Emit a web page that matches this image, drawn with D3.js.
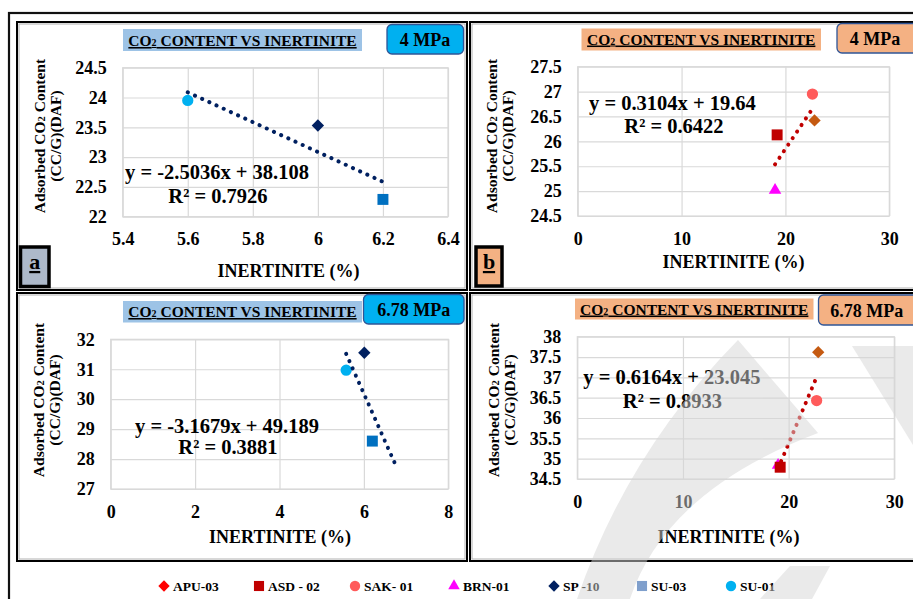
<!DOCTYPE html>
<html>
<head>
<meta charset="utf-8">
<script src="https://cdn.jsdelivr.net/npm/d3@7"></script>
<style>
body { margin: 0; background: #fff; }
svg text { font-family: "Liberation Serif", "Times New Roman", serif; font-weight: bold; fill: #000; }
</style>
</head>
<body>
<div id="chart"></div>
<script>
// legend entries
var legendKeys = ["APU-03", "ASD-02", "SAK-01", "BRN-01", "SP-10", "SU-03", "SU-01"];
var legendLabels = ["APU-03", "ASD - 02", "SAK- 01", "BRN-01", "SP -10", "SU-03", "SU-01"];

// panel a : 4 MPa
var aSamples = ["SU-01", "SP-10", "SU-03"];
var aInert = [5.6, 6.0, 6.2];
var aCO2 = [23.95, 23.53, 22.29];
var aXTicks = [5.4, 5.6, 5.8, 6, 6.2, 6.4];
var aYTicks = [22, 22.5, 23, 23.5, 24, 24.5];
var aTrend = [-2.5036, 38.108];
var aTrendRange = [5.6, 6.2];
var aEq = ["y = -2.5036x + 38.108", "R² = 0.7926"];

// panel b : 4 MPa
var bSamples = ["BRN-01", "ASD-02", "SAK-01", "APU-03"];
var bInert = [19.0, 19.2, 22.6, 22.8];
var bCO2 = [25.02, 26.13, 26.95, 26.42];
var bXTicks = [0, 10, 20, 30];
var bYTicks = [24.5, 25, 25.5, 26, 26.5, 27, 27.5];
var bTrend = [0.3104, 19.64];
var bTrendRange = [19.0, 22.8];
var bEq = ["y = 0.3104x + 19.64", "R² = 0.6422"];

// panel c : 6.78 MPa
var cSamples = ["SU-01", "SP-10", "SU-03"];
var cInert = [5.58, 6.01, 6.2];
var cCO2 = [30.97, 31.55, 28.6];
var cXTicks = [0, 2, 4, 6, 8];
var cYTicks = [27, 28, 29, 30, 31, 32];
var cTrend = [-3.1679, 49.189];
var cTrendRange = [5.58, 6.73];
var cEq = ["y = -3.1679x + 49.189", "R² = 0.3881"];

// panel d : 6.78 MPa
var dSamples = ["BRN-01", "ASD-02", "SAK-01", "APU-03"];
var dInert = [19.0, 19.2, 22.65, 22.8];
var dCO2 = [34.84, 34.79, 36.43, 37.62];
var dXTicks = [0, 10, 20, 30];
var dYTicks = [34.5, 35, 35.5, 36, 36.5, 37, 37.5, 38];
var dTrend = [0.6164, 23.045];
var dTrendRange = [19.0, 22.75];
var dEq = ["y = 0.6164x + 23.045", "R² = 0.8933"];

// marker look of each sample inside the charts
var markStyle = {
    "SU-01": { shape: "circle", color: "#00b0f0" },
    "SP-10": { shape: "diamond", color: "#002060" },
    "SU-03": { shape: "square", color: "#0070c0" },
    "SAK-01": { shape: "circle", color: "#ff5b5b" },
    "APU-03": { shape: "diamond", color: "#c55a11" },
    "ASD-02": { shape: "square", color: "#c00000" },
    "BRN-01": { shape: "triangle", color: "#ff00ff" }
};
// legend uses slightly different colours
var legendColor = {
    "APU-03": "#ff0000", "ASD-02": "#c00000", "SAK-01": "#ff5b5b", "BRN-01": "#ff00ff",
    "SP-10": "#002060", "SU-03": "#7f9fcc", "SU-01": "#00b0f0"
};

var W = 913, H = 599;
var svg = d3.select("#chart").append("svg").attr("width", W).attr("height", H);

function symbolPath(shape, k) {
    k = k || 1;
    if (shape == "circle") return d3.symbol(d3.symbolCircle, 100 * k)();
    if (shape == "square") return d3.symbol(d3.symbolSquare, 120 * k)();
    if (shape == "triangle") return d3.symbol(d3.symbolTriangle, 68 * k)();
    return d3.symbol(d3.symbolSquare, 76 * k)();
}
function symbolRotate(shape) {
    return shape == "diamond" ? " rotate(45)" : "";
}

// outer frame
svg.append("rect").attr("x", 9).attr("y", 13).attr("width", 930).attr("height", 620)
    .attr("fill", "none").attr("stroke", "#111").attr("stroke-width", 2.2);

function drawPanel(p) {
    var g = svg.append("g");
    // panel frame (double line look)
    g.append("rect").attr("x", p.frame[0]).attr("y", p.frame[1])
        .attr("width", p.frame[2] - p.frame[0]).attr("height", p.frame[3] - p.frame[1])
        .attr("fill", "#fff").attr("stroke", "#000").attr("stroke-width", 2);
    g.append("rect").attr("x", p.frame[0] + 2).attr("y", p.frame[1] + 2)
        .attr("width", p.frame[2] - p.frame[0] - 4).attr("height", p.frame[3] - p.frame[1] - 4)
        .attr("fill", "none").attr("stroke", "#b0b0b0").attr("stroke-width", 1);

    var x = d3.scaleLinear().domain([p.xTicks[0], p.xTicks[p.xTicks.length - 1]]).range([p.left, p.right]);
    var y = d3.scaleLinear().domain([p.yTicks[0], p.yTicks[p.yTicks.length - 1]]).range([p.bottom, p.top]);

    // axes with gridlines
    var xa = g.append("g").attr("transform", "translate(0," + p.bottom + ")")
        .call(d3.axisBottom(x).tickValues(p.xTicks).tickFormat(function(d) { return d; })
            .tickSizeInner(-(p.bottom - p.top)).tickSizeOuter(0).tickPadding(16));
    var ya = g.append("g").attr("transform", "translate(" + p.left + ",0)")
        .call(d3.axisLeft(y).tickValues(p.yTicks).tickFormat(function(d) { return d; })
            .tickSizeInner(-(p.right - p.left)).tickSizeOuter(0).tickPadding(16));
    [xa, ya].forEach(function(a) {
        a.select(".domain").remove();
        a.selectAll("line").attr("stroke", "#d9d9d9").attr("stroke-width", 1.2);
        a.selectAll("text").attr("font-size", 18).attr("fill", "#000")
            .style("font-family", "'Liberation Serif', serif").style("font-weight", "bold");
    });
    g.append("rect").attr("x", p.left).attr("y", p.top)
        .attr("width", p.right - p.left).attr("height", p.bottom - p.top)
        .attr("fill", "none").attr("stroke", "#d9d9d9").attr("stroke-width", 1.2);

    // markers
    p.samples.forEach(function(s, i) {
        var st = markStyle[s];
        g.append("path").attr("d", symbolPath(st.shape))
            .attr("transform", "translate(" + x(p.xs[i]) + "," + y(p.ys[i]) + ")" + symbolRotate(st.shape))
            .attr("fill", st.color);
    });

    // trendline, round dots
    var t0 = p.trendRange[0], t1 = p.trendRange[1];
    g.append("line")
        .attr("x1", x(t0)).attr("y1", y(p.trend[0] * t0 + p.trend[1]))
        .attr("x2", x(t1)).attr("y2", y(p.trend[0] * t1 + p.trend[1]))
        .attr("stroke", p.trendColor).attr("stroke-width", 4)
        .attr("stroke-linecap", "round").attr("stroke-dasharray", "0.1 7.8");

    // equation
    g.append("text").attr("x", p.eqPos[0]).attr("y", p.eqPos[1]).attr("font-size", 20.5).text(p.eq[0]);
    g.append("text").attr("x", p.eqPos[2]).attr("y", p.eqPos[3]).attr("font-size", 20.5)
        .attr("text-anchor", "middle").text(p.eq[1]);

    // title box
    g.append("rect").attr("x", p.titleBox[0]).attr("y", p.titleBox[1])
        .attr("width", p.titleBox[2] - p.titleBox[0]).attr("height", p.titleBox[3] - p.titleBox[1])
        .attr("fill", p.titleFill);
    var tt = g.append("text").attr("x", (p.titleBox[0] + p.titleBox[2]) / 2).attr("y", p.titleBase)
        .attr("text-anchor", "middle").attr("font-size", 15.5)
        .style("text-decoration", "underline");
    tt.append("tspan").text("CO");
    tt.append("tspan").attr("font-size", 10).text("2");
    tt.append("tspan").text(" CONTENT VS INERTINITE");

    // pressure box
    g.append("rect").attr("x", p.pBox[0]).attr("y", p.pBox[1])
        .attr("width", p.pBox[2] - p.pBox[0]).attr("height", p.pBox[3] - p.pBox[1])
        .attr("rx", 5).attr("fill", p.pFill).attr("stroke", "#2f5597").attr("stroke-width", 1.3);
    g.append("text").attr("x", p.pText[0]).attr("y", p.pText[1]).attr("text-anchor", "middle")
        .attr("font-size", 18).text(p.pressure);

    // y axis title
    var yt = g.append("text").attr("transform", "translate(" + p.yTitle[0] + "," + p.yTitle[1] + ") rotate(-90)")
        .attr("text-anchor", "middle").attr("font-size", 15.5);
    yt.append("tspan").attr("x", 0).attr("dy", "0.35em").text("Adsorbed CO");
    yt.append("tspan").attr("font-size", 10.5).text("2");
    yt.append("tspan").text(" Content");
    g.append("text").attr("transform", "translate(" + (p.yTitle[0] + 16) + "," + p.yTitle[1] + ") rotate(-90)")
        .attr("text-anchor", "middle").attr("font-size", 15.5).attr("dy", "0.35em").text("(CC/G)(DAF)");

    // x axis title
    g.append("text").attr("x", p.xTitle[0]).attr("y", p.xTitle[1]).attr("text-anchor", "middle")
        .attr("font-size", 18).text("INERTINITE (%)");

    // panel letter
    if (p.letter) {
        g.append("rect").attr("x", p.letterBox[0]).attr("y", p.letterBox[1])
            .attr("width", p.letterBox[2] - p.letterBox[0]).attr("height", p.letterBox[3] - p.letterBox[1])
            .attr("fill", p.letterFill).attr("stroke", "#000").attr("stroke-width", 3.5);
        g.append("text").attr("x", (p.letterBox[0] + p.letterBox[2]) / 2).attr("y", p.letterBox[1] + 22)
            .attr("text-anchor", "middle").attr("font-size", 22)
            .style("text-decoration", "underline").text(p.letter);
    }
}

var blueFill = "#9dc3e6", orangeFill = "#f4b183";

drawPanel({
    frame: [17, 22, 467, 290], left: 122.7, right: 448, top: 67.7, bottom: 216.7,
    xTicks: aXTicks, yTicks: aYTicks, samples: aSamples, xs: aInert, ys: aCO2,
    trend: aTrend, trendRange: aTrendRange, trendColor: "#002060",
    eq: aEq, eqPos: [125, 179, 218, 203],
    titleBox: [123, 29, 362, 51], titleBase: 46, titleFill: blueFill,
    pBox: [387, 24.5, 463.5, 54], pFill: "#00b0f0", pText: [425, 45.5], pressure: "4 MPa",
    yTitle: [40, 136], xTitle: [288.5, 277],
    letter: "a", letterBox: [20.5, 247, 49, 286.5], letterFill: "#adb9ca"
});
drawPanel({
    frame: [470, 22, 940, 290], left: 577.7, right: 889.3, top: 66.7, bottom: 216,
    xTicks: bXTicks, yTicks: bYTicks, samples: bSamples, xs: bInert, ys: bCO2,
    trend: bTrend, trendRange: bTrendRange, trendColor: "#c00000",
    eq: bEq, eqPos: [589, 110, 674, 133],
    titleBox: [581.5, 28.5, 821, 50.5], titleBase: 44.5, titleFill: orangeFill,
    pBox: [837, 23.5, 930, 53], pFill: orangeFill, pText: [875, 44.5], pressure: "4 MPa",
    yTitle: [492, 136], xTitle: [733.5, 268],
    letter: "b", letterBox: [476, 247, 502, 286], letterFill: orangeFill
});
drawPanel({
    frame: [17, 293, 467, 561], left: 110.7, right: 448.3, top: 339.3, bottom: 489,
    xTicks: cXTicks, yTicks: cYTicks, samples: cSamples, xs: cInert, ys: cCO2,
    trend: cTrend, trendRange: cTrendRange, trendColor: "#002060",
    eq: cEq, eqPos: [135, 433, 228, 454],
    titleBox: [123, 301, 362, 322.5], titleBase: 317, titleFill: blueFill,
    pBox: [363.5, 294.5, 464, 324], pFill: "#00b0f0", pText: [413.7, 315.5], pressure: "6.78 MPa",
    yTitle: [38.5, 400], xTitle: [280, 542.5]
});
drawPanel({
    frame: [470, 293, 940, 561], left: 577.3, right: 894.3, top: 336.7, bottom: 479,
    xTicks: dXTicks, yTicks: dYTicks, samples: dSamples, xs: dInert, ys: dCO2,
    trend: dTrend, trendRange: dTrendRange, trendColor: "#c00000",
    eq: dEq, eqPos: [583.3, 384, 672.5, 408],
    titleBox: [575, 298.5, 813.5, 319.5], titleBase: 314.5, titleFill: orangeFill,
    pBox: [818.5, 295, 930, 325], pFill: orangeFill, pText: [866.7, 316.5], pressure: "6.78 MPa",
    yTitle: [493.5, 400], xTitle: [728.5, 543]
});

// legend, spaced the way the original lays it out
var legendSlots = [164, 259, 355, 454, 554, 642, 731];
var lg = svg.append("g").attr("transform", "translate(0,586)");
legendKeys.forEach(function(k, i) {
    var shape = markStyle[k].shape;
    var cx = legendSlots[i];
    lg.append("path").attr("d", symbolPath(shape, 0.85))
        .attr("transform", "translate(" + cx + ",0)" + symbolRotate(shape))
        .attr("fill", legendColor[k]);
    lg.append("text").attr("x", cx + 9).attr("y", 5).attr("font-size", 13.5).text(legendLabels[i]);
});

// faint watermark over the lower right
var wm = svg.append("g").attr("fill", "rgb(214,214,214)").attr("opacity", 0.5);
wm.append("path").attr("d", "M575,605 Q625,455 738,340 L818,433 Q662,492 628,605 Z");
wm.append("path").attr("d", "M852,346 L913,346 L913,445 Z");
wm.append("path").attr("d", "M760,599 L790,566 L830,566 L812,599 Z");
</script>
</body>
</html>
